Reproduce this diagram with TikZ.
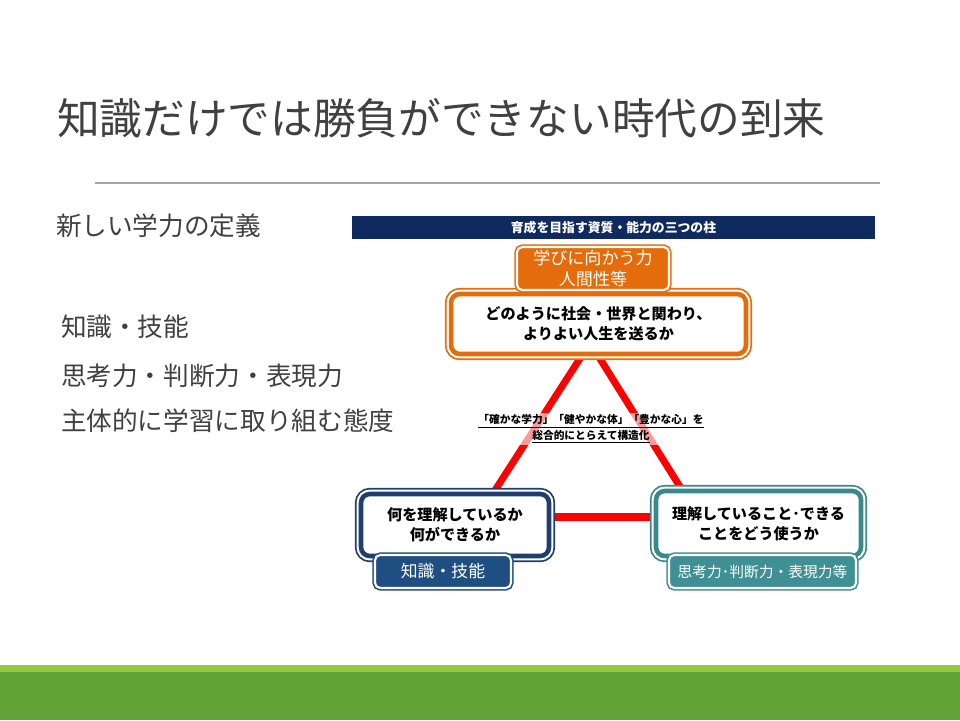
\documentclass[tikz,border=0pt]{standalone}
\usepackage{fontspec}
\setmainfont{Noto Sans CJK JP}
\usepackage{xcolor}
\usepackage{tikz}
\usetikzlibrary{calc, backgrounds}

\definecolor{inkgray}{HTML}{404040}
\definecolor{rulegray}{HTML}{A6A6A6}
\definecolor{banner}{HTML}{0E2A5E}
\definecolor{pillorange}{HTML}{E46C0A}
\definecolor{pillnavy}{HTML}{1F3E6E}
\definecolor{tabnavy}{HTML}{1F4E82}
\definecolor{pillteal}{HTML}{3A878C}
\definecolor{tabteal}{HTML}{3F9094}
\definecolor{lightgreen}{HTML}{94C83D}
\definecolor{darkgreen}{HTML}{62A438}

\tikzset{
	pillar/.style={draw=#1, fill=white, line width=2.6pt, rounded corners=5pt,
		preaction={draw=#1, line width=7pt},
		preaction={draw=white, line width=5pt},
		align=center, font=\bfseries\fontsize{8.6pt}{11.5pt}\selectfont},
	pillartab/.style={fill=#1, draw=white, line width=1.2pt, rounded corners=3pt,
		preaction={draw=#1, line width=3pt},
		text=white, align=center},
	link/.style={draw=red, line width=4pt},
}

\begin{document}
\begin{tikzpicture}[x=0.02cm, y=-0.02cm, every node/.style={inner sep=0pt, outer sep=0pt}]
	\useasboundingbox (0, 0) rectangle (960, 720);
	% Footer bands:
	\fill[lightgreen] (0, 665) rectangle (960, 672);
	\fill[darkgreen] (0, 672) rectangle (960, 720);
	% Title and rule:
	\node[anchor=west, text=inkgray, font=\fontsize{24.3pt}{27pt}\selectfont] (title) at (57, 118){知識だけでは勝負ができない時代の到来};
	\coordinate (ruleL) at (95, 183);
	\coordinate (ruleR) at (880, 183);
	\draw[rulegray, line width=0.6pt] (ruleL) -- (ruleR);
	% Left column text:
	\node[anchor=west, text=inkgray, font=\fontsize{14.6pt}{17pt}\selectfont] (sub) at (56, 226){新しい学力の定義};
	\node[anchor=west, text=inkgray, font=\fontsize{14.6pt}{17pt}\selectfont] (item1) at (61, 327){知識・技能};
	\node[anchor=west, text=inkgray, font=\fontsize{14.6pt}{17pt}\selectfont] (item2) at (61, 376){思考力・判断力・表現力};
	\node[anchor=west, text=inkgray, font=\fontsize{14.6pt}{17pt}\selectfont] (item3) at (61, 421){主体的に学習に取り組む態度};
	% Three pillars:
	\node[fill=banner, minimum width=10.46cm, minimum height=0.46cm, text=white, font=\bfseries\fontsize{7.3pt}{9pt}\selectfont] (banner) at (613.5, 227.5){育成を目指す資質・能力の三つの柱};
	\node[pillar=pillorange, minimum width=5.9cm, minimum height=1.2cm] (top) at (598.5, 324){どのように社会・世界と関わり、\\よりよい人生を送るか};
	\node[pillartab=pillorange, minimum width=3.04cm, minimum height=0.86cm, font=\fontsize{9.7pt}{12pt}\selectfont] (toptab) at (593, 268.5){学びに向かう力\\人間性等};
	\node[pillar=pillnavy, minimum width=3.76cm, minimum height=1.24cm] (left) at (455, 525){何を理解しているか\\何ができるか};
	\node[pillartab=tabnavy, minimum width=2.72cm, minimum height=0.66cm, font=\fontsize{9.6pt}{12pt}\selectfont] (lefttab) at (443, 571.5){知識・技能};
	\node[pillar=pillteal, minimum width=4.1cm, minimum height=1.3cm] (right) at (758.5, 523.5){理解していること･できる\\ことをどう使うか};
	\node[pillartab=tabteal, minimum width=3.74cm, minimum height=0.66cm, font=\fontsize{8.4pt}{12pt}\selectfont] (righttab) at (762.5, 571.5){思考力･判断力・表現力等};
	% Triangle links:
	\begin{scope}[on background layer]
		\draw[link] ($(top.south west)!0.447!(top.south east)$) -- ($(left.north west)!0.70!(left.north east)$);
		\draw[link] ($(top.south west)!0.495!(top.south east)$) -- ($(right.north west)!0.13!(right.north east)$);
		\draw[link] ([yshift=0.16cm]left.east) -- ([yshift=0.16cm]left.east -| right.west);
	\end{scope}
	\node[fill=white, fill opacity=0.6, text opacity=1, inner sep=1pt, align=center, font=\bfseries\fontsize{6.1pt}{7.8pt}\selectfont] (note) at (591, 429){\underline{「確かな学力」「健やかな体」「豊かな心」を}\\\underline{総合的にとらえて構造化}};
\end{tikzpicture}
\end{document}
